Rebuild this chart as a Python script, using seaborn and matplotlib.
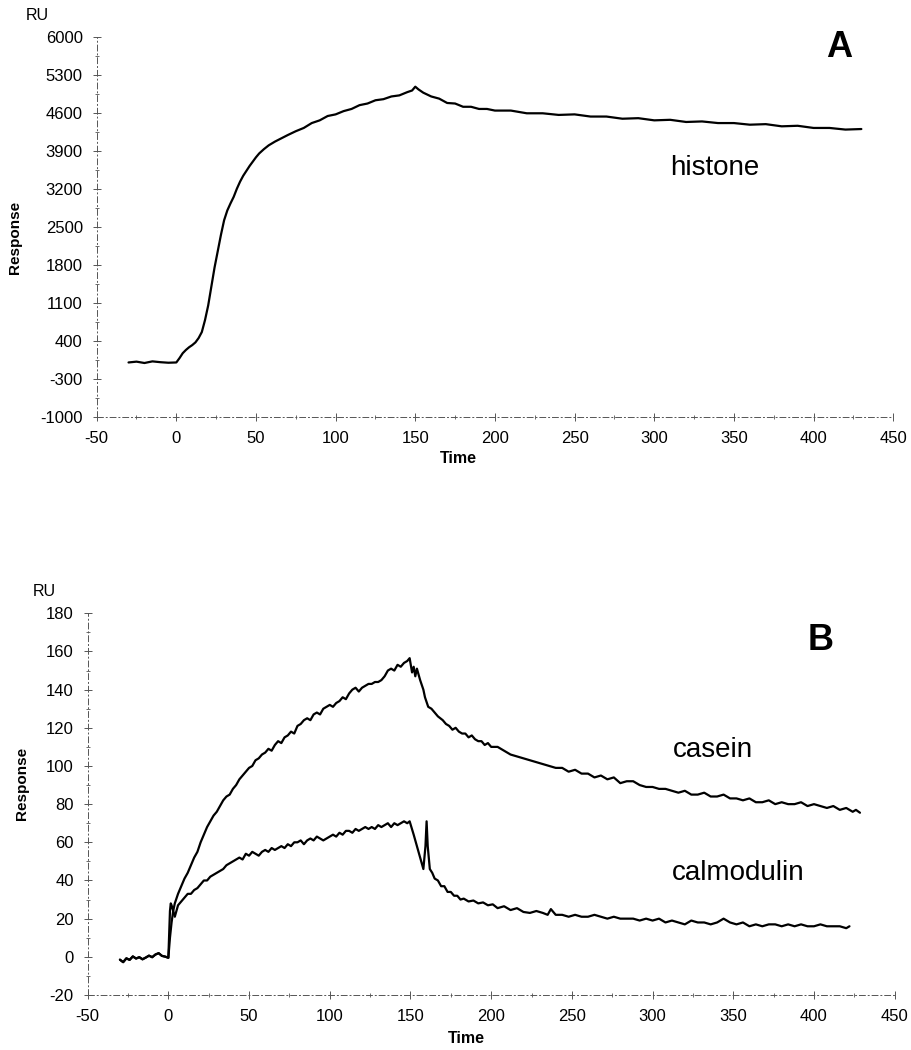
import numpy as np
import matplotlib
matplotlib.use("Agg")
import matplotlib.pyplot as plt
import seaborn as sns
from matplotlib.ticker import MultipleLocator, FixedLocator

# ==========================================================
# DATA
# ==========================================================

# Panel A - histone
hist_t = [-30, -25, -20, -15, -10, -5, 0, 2, 4, 6,
          8, 10, 12, 14, 16, 18, 20, 22, 24, 26,
          28, 30, 32, 34, 36, 38, 40, 42, 44, 46,
          48, 50, 52, 55, 58, 62, 66, 70, 75, 80,
          85, 90, 95, 100, 105, 110, 115, 120, 125, 130,
          135, 140, 145, 148, 150, 152, 155, 160, 165, 170,
          175, 180, 185, 190, 195, 200, 210, 220, 230, 240,
          250, 260, 270, 280, 290, 300, 310, 320, 330, 340,
          350, 360, 370, 380, 390, 400, 410, 420, 430]
hist_v = [0, 15, -10, 20, 5, -5, 0, 80, 170, 230,
          280, 320, 370, 450, 560, 780, 1050, 1400, 1750, 2050,
          2350, 2620, 2800, 2930, 3050, 3200, 3330, 3440, 3530, 3620,
          3700, 3780, 3850, 3930, 4000, 4070, 4130, 4190, 4260, 4320,
          4410, 4460, 4540, 4570, 4630, 4670, 4740, 4770, 4830, 4850,
          4900, 4920, 4980, 5010, 5080, 5030, 4970, 4900, 4860, 4780,
          4770, 4710, 4710, 4670, 4670, 4640, 4640, 4590, 4590, 4560,
          4570, 4530, 4530, 4490, 4500, 4460, 4470, 4430, 4440, 4410,
          4410, 4380, 4390, 4350, 4360, 4320, 4320, 4290, 4300]

# Panel B - shared baseline before injection
base_t = [-30, -28, -26, -24, -22, -20, -18, -16, -14, -12, -10, -8, -6, -4, -2, 0]
base_v = [-1.5, -2.8, -0.8, -1.6, 0.2, -0.9, -0.2, -1.3, -0.4, 0.6, -0.2, 1.2, 1.9, 0.5, 0.1, -0.5]

# casein
casein_t = [1, 2, 3, 4, 6, 8, 10, 12, 14, 16,
            18, 20, 22, 24, 26, 28, 30, 32, 34, 36,
            38, 40, 42, 44, 46, 48, 50, 52, 54, 56,
            58, 60, 62, 64, 66, 68, 70, 72, 74, 76,
            78, 80, 82, 84, 86, 88, 90, 92, 94, 96,
            98, 100, 102, 104, 106, 108, 110, 112, 114, 116,
            118, 120, 122, 124, 126, 128, 130, 132, 134, 136,
            138, 140, 142, 144, 146, 148, 149.5, 151, 152, 153,
            154, 156, 158, 159, 161, 163, 165, 167, 170, 172,
            174, 176, 178, 180, 182, 184, 186, 188, 190, 192,
            194, 196, 198, 200, 204, 208, 212, 216, 220, 224,
            228, 232, 236, 240, 244, 248, 252, 256, 260, 264,
            268, 272, 276, 280, 284, 288, 292, 296, 300, 304,
            308, 312, 316, 320, 324, 328, 332, 336, 340, 344,
            348, 352, 356, 360, 364, 368, 372, 376, 380, 384,
            388, 392, 396, 400, 404, 408, 412, 416, 420, 424,
            426, 428.5]
casein_v = [10, 18, 24, 28, 33, 37, 41, 44, 48, 52,
            55, 60, 64, 68, 71, 74, 76, 79, 82, 84,
            85, 88, 90, 93, 95, 97, 99, 100, 103, 104,
            106, 107, 109, 108, 111, 113, 112, 115, 116, 118,
            117, 121, 122, 124, 125, 124, 127, 128, 127, 130,
            131, 132, 131, 133, 134, 136, 135, 138, 140, 141,
            139, 141, 142, 143, 143, 144, 144, 145, 147, 150,
            151, 150, 153, 152, 154, 155, 156.5, 149, 152, 147,
            151, 145, 140, 136, 131, 130, 128, 126, 124, 122,
            121, 119, 120, 118, 117, 117, 115, 116, 114, 113,
            113, 111, 112, 110, 110, 108, 106, 105, 104, 103,
            102, 101, 100, 99, 99, 97, 98, 96, 96, 94,
            95, 93, 94, 91, 92, 92, 90, 89, 89, 88,
            88, 87, 86, 87, 85, 85, 86, 84, 84, 85,
            83, 83, 82, 83, 81, 81, 82, 80, 81, 80,
            80, 81, 79, 80, 79, 78, 79, 77, 78, 76,
            77, 75.5]

# calmodulin
calmod_t = [0.5, 1, 1.5, 2, 3, 4, 5, 6, 8, 10,
            12, 14, 16, 18, 20, 22, 24, 26, 28, 30,
            32, 34, 36, 38, 40, 42, 44, 46, 48, 50,
            52, 54, 56, 58, 60, 62, 64, 66, 68, 70,
            72, 74, 76, 78, 80, 82, 84, 86, 88, 90,
            92, 94, 96, 98, 100, 102, 104, 106, 108, 110,
            112, 114, 116, 118, 120, 122, 124, 126, 128, 130,
            132, 134, 136, 138, 140, 142, 144, 146, 148, 149.5,
            152, 154, 156, 158, 159.3, 160, 160.7, 162, 163.5, 165,
            167, 169, 171, 173, 175, 177, 179, 181, 183, 186,
            189, 192, 195, 198, 201, 204, 208, 212, 216, 220,
            224, 228, 232, 235, 237, 240, 244, 248, 252, 256,
            260, 264, 268, 272, 276, 280, 284, 288, 292, 296,
            300, 304, 308, 312, 316, 320, 324, 328, 332, 336,
            340, 344, 348, 352, 356, 360, 364, 368, 372, 376,
            380, 384, 388, 392, 396, 400, 404, 408, 412, 416,
            420, 422]
calmod_v = [12, 24, 28, 27, 24, 21, 24, 27, 29, 31,
            33, 33, 35, 36, 38, 40, 40, 42, 43, 44,
            45, 46, 48, 49, 50, 51, 52, 51, 54, 53,
            55, 54, 53, 55, 56, 55, 57, 56, 57, 58,
            57, 59, 58, 60, 60, 61, 59, 61, 62, 61,
            63, 62, 61, 62, 63, 64, 63, 65, 64, 66,
            66, 65, 67, 66, 67, 68, 67, 68, 67, 69,
            68, 69, 70, 68, 70, 69, 70, 71, 70, 71,
            64, 58, 52, 46, 58, 71, 58, 46, 44, 41,
            40, 37, 37, 34, 34, 32, 32, 30, 30.5, 29,
            29.5, 28, 28.5, 27, 27.5, 25.5, 26.5, 24.5, 25.5, 23.5,
            23, 24, 23, 22, 25, 22, 22, 21, 22, 21,
            21, 22, 21, 20, 21, 20, 20, 20, 19, 20,
            19, 20, 18, 19, 18, 17, 19, 18, 18, 17,
            18, 20, 18, 17, 18, 16, 17, 16, 17, 17,
            16, 17, 16, 17, 16, 16, 17, 16, 16, 16,
            15, 16]

x_ticks = list(range(-50, 451, 50))
a_yticks = list(range(-1000, 6001, 700))
b_yticks = list(range(-20, 181, 20))

# ==========================================================
# STYLE
# ==========================================================

sns.set_style("white")
plt.rcParams["font.family"] = ["Liberation Sans", "DejaVu Sans"]
plt.rcParams["axes.unicode_minus"] = False
plt.rcParams["text.color"] = "black"
plt.rcParams["xtick.color"] = "black"
plt.rcParams["ytick.color"] = "black"

AXIS_COL = "#555555"


def style_axis(ax, ylim, yticks, yminor):
    ax.set_xlim(-50, 450)
    ax.set_ylim(*ylim)
    ax.set_xticks(x_ticks)
    ax.xaxis.set_minor_locator(MultipleLocator(25))
    ax.set_yticks(yticks)
    ax.yaxis.set_minor_locator(yminor)
    for s in ["top", "right"]:
        ax.spines[s].set_visible(False)
    for s in ["left", "bottom"]:
        ax.spines[s].set_linestyle((0, (6, 3, 1, 3)))
        ax.spines[s].set_linewidth(0.7)
        ax.spines[s].set_color(AXIS_COL)
    ax.tick_params(which="both", bottom=True, left=True)
    ax.tick_params(which="major", direction="inout", length=6, width=0.7,
                   color=AXIS_COL, labelcolor="black", labelsize=12, pad=7)
    ax.tick_params(which="minor", direction="inout", length=3, width=0.6,
                   color=AXIS_COL)
    ax.set_xlabel("")
    ax.set_ylabel("")


fig = plt.figure(figsize=(9.12, 10.5), dpi=100)
ax_a = fig.add_axes([0.106, 0.6031, 0.8734, 0.3619])
ax_b = fig.add_axes([0.0961, 0.0524, 0.8849, 0.3635])

# ==========================================================
# PANEL A
# ==========================================================

sns.lineplot(x=hist_t, y=hist_v, ax=ax_a, color="black", lw=1.6,
             estimator=None, sort=False)
style_axis(ax_a, (-1000, 6000), a_yticks,
           FixedLocator(list(range(-650, 6000, 700))))
ax_a.text(416, 5810, "A", fontsize=26, fontweight="bold", ha="center", va="center")
ax_a.text(338, 3452, "histone", fontsize=20, ha="center", va="baseline")

# ==========================================================
# PANEL B
# ==========================================================

sns.lineplot(x=base_t + casein_t, y=base_v + casein_v, ax=ax_b, color="black",
             lw=1.6, estimator=None, sort=False)
sns.lineplot(x=base_t + calmod_t, y=base_v + calmod_v, ax=ax_b, color="black",
             lw=1.6, estimator=None, sort=False)
style_axis(ax_b, (-20, 180), b_yticks, MultipleLocator(10))
ax_b.text(404, 165.5, "B", fontsize=26, fontweight="bold", ha="center", va="center")
ax_b.text(337.5, 104.9, "casein", fontsize=20, ha="center", va="baseline")
ax_b.text(353, 40.4, "calmodulin", fontsize=20, ha="center", va="baseline")

# ==========================================================
# AXIS TITLES
# ==========================================================

fig.text(0.0406, 0.9848, "RU", fontsize=11.5, ha="center", va="center")
fig.text(0.0482, 0.4371, "RU", fontsize=11.5, ha="center", va="center")
fig.text(0.0165, 0.7743, "Response", fontsize=11, fontweight="bold",
         rotation=90, ha="center", va="center")
fig.text(0.024, 0.2543, "Response", fontsize=11, fontweight="bold",
         rotation=90, ha="center", va="center")
fig.text(0.503, 0.5638, "Time", fontsize=11.5, fontweight="bold",
         ha="center", va="center")
fig.text(0.511, 0.0105, "Time", fontsize=11.5, fontweight="bold",
         ha="center", va="center")

fig.savefig("out.png", dpi=100)
